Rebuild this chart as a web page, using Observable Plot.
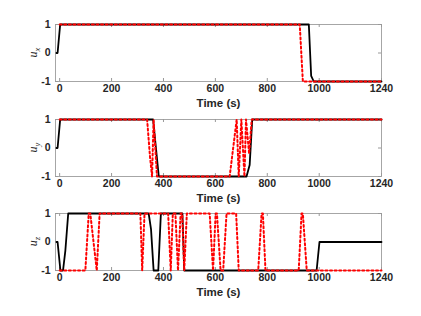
<!DOCTYPE html>
<html><head><meta charset="utf-8">
<script src="https://cdn.jsdelivr.net/npm/d3@7"></script>
<script src="https://cdn.jsdelivr.net/npm/@observablehq/plot@0.6"></script>
<style>
body{margin:0;background:#fff;width:421px;height:316px;overflow:hidden;position:relative;font-family:"Liberation Sans",Arial,sans-serif;}
.panel{position:absolute;left:0;}
</style></head><body>
<div id="p1" class="panel"></div>
<div id="p2" class="panel"></div>
<div id="p3" class="panel"></div>
<script>
const xTicks = [0, 200, 400, 600, 800, 1000, 1240];
const yTicks = [-1, 0, 1];
const xLabel = "Time (s)";

// u_x
const bxT = [-12, -8, 2, 960, 969, 979, 1240];
const bxV = [0, 0, 1, 1, -0.8, -1, -1];
const rxT = [0, 925, 937, 1240];
const rxV = [1, 1, -1, -1];

// u_y
const byT = [-12, -8, 2, 360, 382, 720, 732, 742, 1240];
const byV = [0, 0, 1, 1, -1, -1, -0.6, 1, 1];
const ryT = [0, 337, 348, 356, 362, 375, 655, 682, 690, 700, 712, 718, 730, 740, 1240];
const ryV = [1, 1, -0.3, -1, 1, -1, -1, 1, -1, 1, -1, 1, -0.2, 1, 1];

// u_z
const bzT = [-12, -8, 3, 13, 22, 33, 343, 352, 362, 380, 390, 473, 480, 990, 1001, 1240];
const bzV = [0, 0, -1, -1, -0.3, 1, 1, 0.45, -1, -1, 1, 1, -1, -1, 0, 0];
const rzT = [0, 99, 112, 118, 143, 154, 311, 318, 327, 418, 428, 436, 446, 456, 466, 472, 480, 490, 578, 591, 601, 606, 620, 630, 643, 680, 690, 765, 778, 783, 793, 921, 932, 937, 952, 1240];
const rzV = [-1, -1, 1, 1, -1, 1, 1, -1, 1, 1, -1, 1, 1, -1, 1, 1, -1, 1, 1, -1, 1, 1, -1, -1, 1, 1, -1, -1, 1, 1, -1, -1, 1, 1, -1, -1];

const panels = [
  {id: "p1", top: 24, bT: bxT, bV: bxV, rT: rxT, rV: rxV, sub: "x"},
  {id: "p2", top: 119, bT: byT, bV: byV, rT: ryT, rV: ryV, sub: "y"},
  {id: "p3", top: 213, bT: bzT, bV: bzV, rT: rzT, rV: rzV, sub: "z"}
];

const W = 421, ML = 55, MR = 40, MT = 10, MB = 32, FH = 57;
const FW = W - ML - MR;

for (const p of panels) {
  const black = p.bT.map((t, i) => ({t, v: p.bV[i]}));
  const red = p.rT.map((t, i) => ({t, v: p.rV[i]}));
  const chart = Plot.plot({
    width: W, height: MT + FH + MB,
    marginLeft: ML, marginRight: MR, marginTop: MT, marginBottom: MB,
    style: {fontFamily: "Liberation Sans, Arial, sans-serif", fontSize: "10.5px", fontWeight: "bold", color: "#262626", background: "transparent", overflow: "visible"},
    x: {domain: [-16, 1240]},
    y: {domain: [-1, 1]},
    marks: [
      Plot.frame({stroke: "#a6a6a6"}),
      Plot.tickX(xTicks, {x: d => d, insetTop: FH - 3, stroke: "#999"}),
      Plot.tickX(xTicks, {x: d => d, insetBottom: FH - 3, stroke: "#999"}),
      Plot.tickY(yTicks, {y: d => d, insetLeft: FW - 3, stroke: "#999"}),
      Plot.tickY(yTicks, {y: d => d, insetRight: FW - 3, stroke: "#999"}),
      Plot.axisX(xTicks, {tickSize: 0, tickPadding: 3, label: null, tickFormat: d => String(d)}),
      Plot.axisY(yTicks, {tickSize: 0, tickPadding: 5, label: null, tickFormat: d => String(d)}),
      Plot.text([xLabel], {text: d => d, frameAnchor: "bottom", dy: 25, fontSize: 11.5, fontWeight: "bold", fill: "#262626"}),
      Plot.line(black, {x: "t", y: "v", stroke: "#000", strokeWidth: 1.8}),
      Plot.line(red, {x: "t", y: "v", stroke: "#ff0000", strokeWidth: 2, strokeDasharray: "2,2.6"})
    ]
  });
  const el = document.getElementById(p.id);
  el.style.top = (p.top - MT) + "px";
  el.appendChild(chart);
  const svg = d3.select(chart);
  const lab = svg.append("text")
    .attr("transform", `translate(37,${MT + FH / 2}) rotate(-90)`)
    .attr("text-anchor", "middle")
    .attr("font-family", "Liberation Serif, DejaVu Serif, serif")
    .attr("font-style", "italic")
    .attr("font-weight", "normal")
    .attr("font-size", 12)
    .attr("fill", "#262626");
  lab.append("tspan").text("u");
  lab.append("tspan").attr("font-size", 8.5).attr("dy", 3).text(p.sub);
}
</script>
</body></html>
